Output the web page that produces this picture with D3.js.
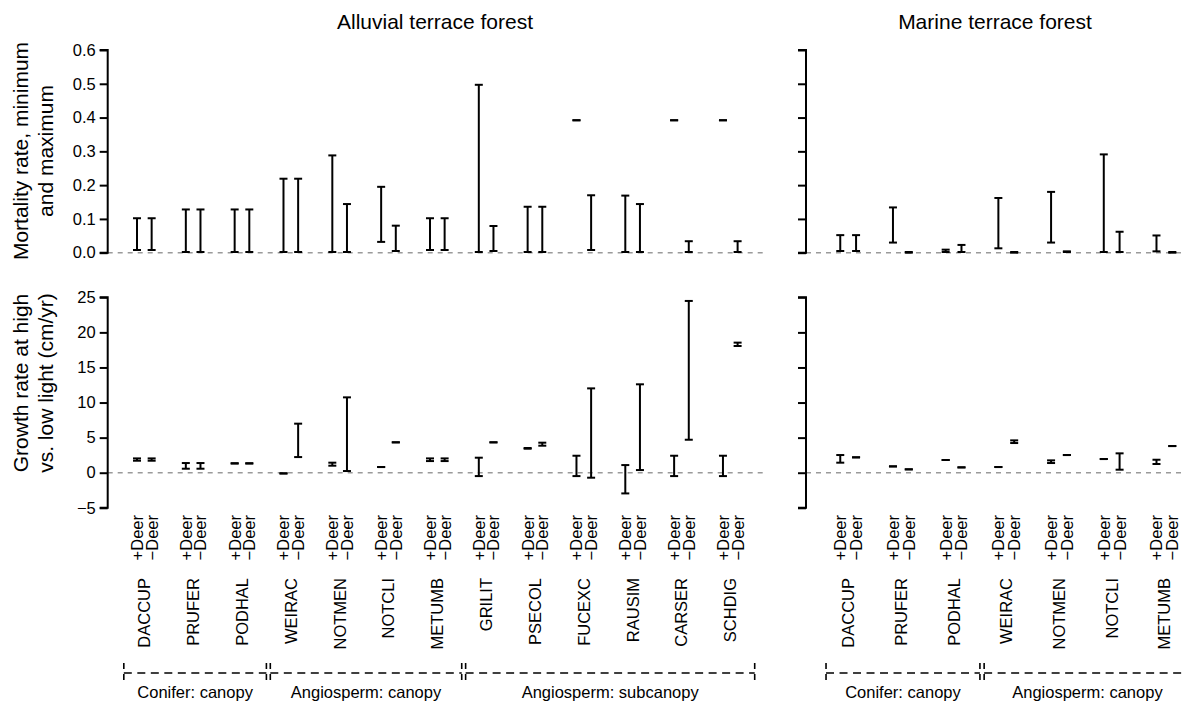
<!DOCTYPE html>
<html>
<head>
<meta charset="utf-8">
<script src="https://cdn.jsdelivr.net/npm/d3@7"></script>
<style>
  html, body { margin: 0; padding: 0; background: #fff; }
  svg { display: block; }
  text { font-family: "Liberation Sans", Arial, Helvetica, sans-serif; fill: #000; }
</style>
</head>
<body>
<svg id="chart" width="1184" height="701"></svg>
<script>
// ---- data -------------------------------------------------------------
const speciesAlluvial = ["DACCUP","PRUFER","PODHAL","WEIRAC","NOTMEN","NOTCLI","METUMB",
                         "GRILIT","PSECOL","FUCEXC","RAUSIM","CARSER","SCHDIG"];
const speciesMarine = ["DACCUP","PRUFER","PODHAL","WEIRAC","NOTMEN","NOTCLI","METUMB"];
const treatments = ["+Deer", "\u2212Deer"];

// mortality rate (min / max), alluvial terrace
const mortAlluvialPlusMin  = [0.008,0.002,0.002,0.002,0.002,0.032,0.008,0.002,0.002,0.392,0.002,0.392,0.392];
const mortAlluvialPlusMax  = [0.102,0.128,0.128,0.219,0.288,0.195,0.102,0.497,0.136,0.392,0.169,0.392,0.392];
const mortAlluvialMinusMin = [0.008,0.002,0.002,0.002,0.002,0.005,0.008,0.005,0.002,0.008,0.002,0.002,0.002];
const mortAlluvialMinusMax = [0.102,0.128,0.128,0.219,0.144,0.080,0.102,0.079,0.136,0.170,0.144,0.034,0.034];

// mortality rate (min / max), marine terrace
const mortMarinePlusMin  = [0.005,0.030,0.002,0.013,0.030,0.002,0.004];
const mortMarinePlusMax  = [0.052,0.134,0.009,0.162,0.180,0.291,0.051];
const mortMarineMinusMin = [0.005,0.000,0.002,0.000,0.002,0.002,0.000];
const mortMarineMinusMax = [0.052,0.002,0.023,0.002,0.004,0.062,0.002];

// growth at high vs low light (min / max), alluvial terrace
const growAlluvialPlusMin  = [1.71,0.57,1.30,-0.12,1.00,0.81,1.66,-0.48,3.42,-0.48,-2.95,-0.48,-0.48];
const growAlluvialPlusMax  = [2.04,1.38,1.36,-0.08,1.43,0.81,2.04,2.14,3.52,2.42,1.09,2.42,2.42];
const growAlluvialMinusMin = [1.71,0.57,1.30,2.23,0.24,4.33,1.66,4.33,3.85,-0.71,0.38,4.70,18.06];
const growAlluvialMinusMax = [2.04,1.38,1.36,6.99,10.74,4.33,2.04,4.33,4.28,12.02,12.60,24.48,18.54];

// growth at high vs low light (min / max), marine terrace
const growMarinePlusMin  = [1.43,0.90,1.81,0.81,1.38,1.95,1.24];
const growMarinePlusMax  = [2.52,0.90,1.81,0.81,1.76,1.95,1.85];
const growMarineMinusMin = [2.19,0.48,0.76,4.23,2.52,0.43,3.80];
const growMarineMinusMax = [2.19,0.48,0.76,4.61,2.52,2.76,3.80];

// axis ticks
const mortTicks = [0, 0.1, 0.2, 0.3, 0.4, 0.5, 0.6];
const growTicks = [-5, 0, 5, 10, 15, 20, 25];

// species groups (first / last index into the species list)
const groupLabelsAlluvial = ["Conifer: canopy", "Angiosperm: canopy", "Angiosperm: subcanopy"];
const groupFirstAlluvial = [0, 3, 7];
const groupLastAlluvial  = [2, 6, 12];
const groupLabelsMarine = ["Conifer: canopy", "Angiosperm: canopy"];
const groupFirstMarine = [0, 3];
const groupLastMarine  = [2, 6];

// ---- layout -----------------------------------------------------------
const svg = d3.select("#chart");
svg.append("rect").attr("width", 1184).attr("height", 701).attr("fill", "#fff");

const yMort = d3.scaleLinear().domain([0, 0.6]).range([252.7, 50]);
const yGrow = d3.scaleLinear().domain([-5, 25]).range([507.8, 297.3]);

const xAlluvial = d3.scaleLinear().domain([0.25, 13.67]).range([107.7, 763]);
const xMarine   = d3.scaleLinear().domain([0.2, 7.67]).range([806, 1199.7]);

const pairOffset = 0.15;   // +Deer left, −Deer right of species centre
const capHalf = 4;

function yAxis(scale, ticks, xPos, withLabels, fmt) {
  const ax = d3.axisLeft(scale).tickValues(ticks).tickSize(8).tickPadding(4)
    .tickFormat(withLabels ? fmt : () => "");
  const g = svg.append("g").attr("transform", `translate(${xPos},0)`).call(ax);
  g.select(".domain").attr("stroke", "#000").attr("stroke-width", 2)
    .attr("d", `M-8,${scale(ticks[ticks.length-1])}H0V${scale(ticks[0])}H-8`);
  g.selectAll(".tick line").attr("stroke", "#000").attr("stroke-width", 2);
  g.selectAll(".tick text").style("font-size", "16.5px")
    .style("font-family", '"Liberation Sans", Arial, sans-serif');
  return g;
}

function zeroLine(yScale, x0, x1) {
  svg.append("line")
    .attr("x1", x0).attr("x2", x1)
    .attr("y1", yScale(0)).attr("y2", yScale(0))
    .attr("stroke", "#9a9a9a").attr("stroke-width", 1.6)
    .attr("stroke-dasharray", "5,5");
}

function errorBars(xScale, yScale, species, pMin, pMax, mMin, mMax) {
  const rows = [];
  species.forEach((s, i) => {
    rows.push({ x: i + 1 - pairOffset, lo: pMin[i], hi: pMax[i] });
    rows.push({ x: i + 1 + pairOffset, lo: mMin[i], hi: mMax[i] });
  });
  const g = svg.append("g").attr("stroke", "#000").attr("stroke-width", 2).attr("fill", "none");
  const bar = g.selectAll("g").data(rows).join("g");
  bar.append("line")
    .attr("x1", d => xScale(d.x)).attr("x2", d => xScale(d.x))
    .attr("y1", d => yScale(d.lo)).attr("y2", d => yScale(d.hi));
  bar.append("line")
    .attr("x1", d => xScale(d.x) - capHalf).attr("x2", d => xScale(d.x) + capHalf)
    .attr("y1", d => yScale(d.lo)).attr("y2", d => yScale(d.lo));
  bar.append("line")
    .attr("x1", d => xScale(d.x) - capHalf).attr("x2", d => xScale(d.x) + capHalf)
    .attr("y1", d => yScale(d.hi)).attr("y2", d => yScale(d.hi));
}

function categoryLabels(xScale, species) {
  const g = svg.append("g");
  species.forEach((s, i) => {
    treatments.forEach((t, k) => {
      const x = xScale(i + 1 + (k === 0 ? -pairOffset : pairOffset));
      g.append("text")
        .attr("transform", `translate(${x},515) rotate(-90)`)
        .attr("dy", "0.36em").attr("text-anchor", "end")
        .style("font-size", "16.5px").text(t);
    });
    g.append("text")
      .attr("transform", `translate(${xScale(i + 1)},578) rotate(-90)`)
      .attr("dy", "0.36em").attr("text-anchor", "end")
      .style("font-size", "16.5px").text(s);
  });
}

function groupBrackets(xScale, labels, first, last) {
  const yB = 673;
  labels.forEach((lab, j) => {
    const x0 = xScale(first[j] + 1 - 0.42);
    const x1 = xScale(last[j] + 1 + 0.5);
    const g = svg.append("g").attr("stroke", "#000").attr("stroke-width", 1.6)
      .attr("stroke-dasharray", "8,5.5");
    g.append("line").attr("x1", x0).attr("x2", x1).attr("y1", yB).attr("y2", yB);
    g.append("line").attr("x1", x0).attr("x2", x0).attr("y1", yB - 10).attr("y2", yB + 11)
      .attr("stroke-dasharray", "6,5");
    g.append("line").attr("x1", x1).attr("x2", x1).attr("y1", yB - 10).attr("y2", yB + 11)
      .attr("stroke-dasharray", "6,5");
    svg.append("text").attr("x", (x0 + x1) / 2).attr("y", 698)
      .attr("text-anchor", "middle").style("font-size", "16.5px").text(lab);
  });
}

// ---- panels -----------------------------------------------------------
const fmtMort = d3.format(".1f");
const fmtGrow = d => d < 0 ? "\u2212" + Math.abs(d) : String(d);

// zero reference lines
zeroLine(yMort, 107.7, 763);
zeroLine(yGrow, 107.7, 763);
zeroLine(yMort, 806, 1199);
zeroLine(yGrow, 806, 1199);

yAxis(yMort, mortTicks, 107.7, true, fmtMort);
yAxis(yGrow, growTicks, 107.7, true, fmtGrow);
yAxis(yMort, mortTicks, 806, false);
yAxis(yGrow, growTicks, 806, false);

errorBars(xAlluvial, yMort, speciesAlluvial,
  mortAlluvialPlusMin, mortAlluvialPlusMax, mortAlluvialMinusMin, mortAlluvialMinusMax);
errorBars(xAlluvial, yGrow, speciesAlluvial,
  growAlluvialPlusMin, growAlluvialPlusMax, growAlluvialMinusMin, growAlluvialMinusMax);
errorBars(xMarine, yMort, speciesMarine,
  mortMarinePlusMin, mortMarinePlusMax, mortMarineMinusMin, mortMarineMinusMax);
errorBars(xMarine, yGrow, speciesMarine,
  growMarinePlusMin, growMarinePlusMax, growMarineMinusMin, growMarineMinusMax);

categoryLabels(xAlluvial, speciesAlluvial);
categoryLabels(xMarine, speciesMarine);

groupBrackets(xAlluvial, groupLabelsAlluvial, groupFirstAlluvial, groupLastAlluvial);
groupBrackets(xMarine, groupLabelsMarine, groupFirstMarine, groupLastMarine);

// panel titles
svg.append("text").attr("x", 435).attr("y", 29).attr("text-anchor", "middle")
  .style("font-size", "21px").text("Alluvial terrace forest");
svg.append("text").attr("x", 995).attr("y", 29).attr("text-anchor", "middle")
  .style("font-size", "21px").text("Marine terrace forest");

// y-axis titles
function yTitle(lines, yc) {
  lines.forEach((t, k) => {
    svg.append("text")
      .attr("transform", `translate(${20.7 + k * 24.5},${yc}) rotate(-90)`)
      .attr("dy", "0.36em").attr("text-anchor", "middle")
      .style("font-size", "21px").text(t);
  });
}
yTitle(["Mortality rate, minimum", "and maximum"], 151);
yTitle(["Growth rate at high", "vs. low light (cm/yr)"], 383);
</script>
</body>
</html>
